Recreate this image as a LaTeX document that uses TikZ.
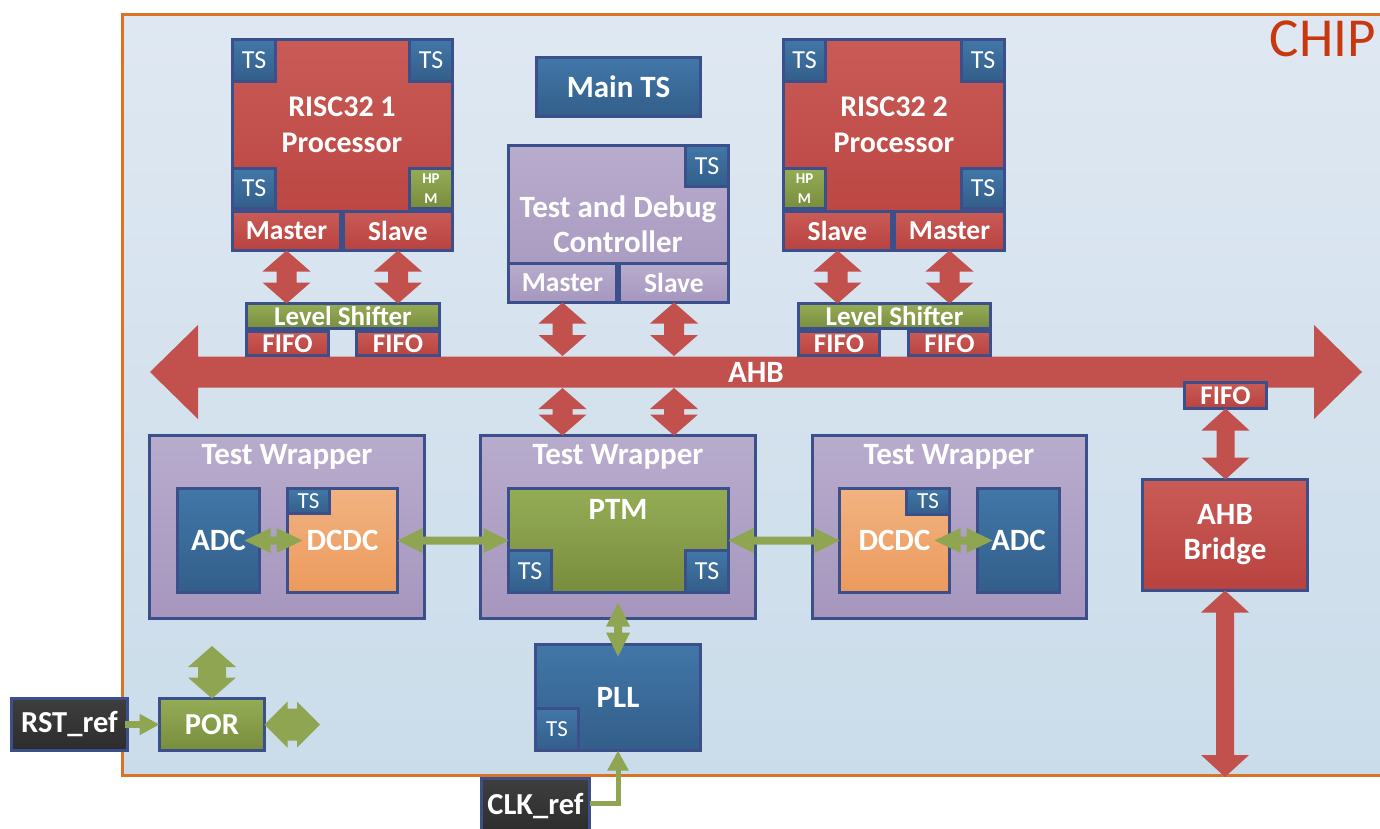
\documentclass[tikz,border=0pt]{standalone}
\usepackage{fontspec}
\setmainfont{Carlito}
\usetikzlibrary{arrows.meta,calc}
\definecolor{bordc}{HTML}{3B4F8A}
\definecolor{redT}{HTML}{C95B56}
\definecolor{redB}{HTML}{B9423F}
\definecolor{blueT}{HTML}{4177A8}
\definecolor{blueB}{HTML}{335E8A}
\definecolor{greenT}{HTML}{95AC56}
\definecolor{greenB}{HTML}{788D3D}
\definecolor{purT}{HTML}{B8ACCD}
\definecolor{purB}{HTML}{A696BE}
\definecolor{orT}{HTML}{F1B381}
\definecolor{orB}{HTML}{EC9A5C}
\definecolor{darkT}{HTML}{3E3E3E}
\definecolor{darkB}{HTML}{2C2C2C}
\definecolor{chipT}{HTML}{DFE8F2}
\definecolor{chipB}{HTML}{CADCEA}
\definecolor{chipline}{HTML}{DB7327}
\definecolor{chiptext}{HTML}{C8380F}
\definecolor{arrred}{HTML}{C2504D}
\definecolor{arrgreen}{HTML}{8FA552}

\tikzset{
  box/.style={draw=bordc, line width=3pt, inner sep=0pt, outer sep=0pt, text=white, align=center},
  redf/.style={box, top color=redT, bottom color=redB},
  bluef/.style={box, top color=blueT, bottom color=blueB},
  greenf/.style={box, top color=greenT, bottom color=greenB},
  purf/.style={box, top color=purT, bottom color=purB},
  orf/.style={box, top color=orT, bottom color=orB},
  darkf/.style={box, top color=darkT, bottom color=darkB},
  chipf/.style={draw=chipline, line width=3pt, top color=chipT, bottom color=chipB, inner sep=0pt},
  lbl/.style={text=white, align=center, inner sep=0pt},
  rarrow/.style={fill=arrred},
  garrow/.style={fill=arrgreen},
  gline/.style={draw=arrgreen, line width=5pt, -{Triangle[width=20pt,length=20pt]}},
  fT/.style={font=\bfseries\fontsize{31}{35}\selectfont},
  fR/.style={font=\bfseries\fontsize{30}{36}\selectfont},
  fW/.style={font=\bfseries\fontsize{31}{35}\selectfont},
  fM/.style={font=\bfseries\fontsize{27.5}{30}\selectfont},
  fX/.style={font=\bfseries\fontsize{30.5}{34}\selectfont},
  fF/.style={font=\bfseries\fontsize{27}{30}\selectfont},
  fTS/.style={font=\fontsize{26}{30}\selectfont},
  fts/.style={font=\fontsize{23}{28}\selectfont},
  fHP/.style={font=\bfseries\fontsize{15}{20}\selectfont},
}
\newcommand\blk[7]{\node[#6,minimum width={#4-#2-3},minimum height={#5-#3-3}] (#1) at ({(#2+#4)/2},{(#3+#5)/2}) {#7};}
% vertical double arrow: style, top point, bottom point, head half width, head length, shaft half width
\newcommand\vdarr[6]{\fill[#1] let \p1=(#2), \p2=(#3) in (\x1,\y1) -- (\x1+#4pt,\y1-#5pt) -- (\x1+#6pt,\y1-#5pt) -- (\x1+#6pt,\y2+#5pt) -- (\x1+#4pt,\y2+#5pt) -- (\x1,\y2) -- (\x1-#4pt,\y2+#5pt) -- (\x1-#6pt,\y2+#5pt) -- (\x1-#6pt,\y1-#5pt) -- (\x1-#4pt,\y1-#5pt) -- cycle;}
% horizontal double arrow: style, left point, right point, head half height, head length, shaft half height
\newcommand\hdarr[6]{\fill[#1] let \p1=(#2), \p2=(#3) in (\x1,\y1) -- (\x1+#5pt,\y1+#4pt) -- (\x1+#5pt,\y1+#6pt) -- (\x2-#5pt,\y1+#6pt) -- (\x2-#5pt,\y1+#4pt) -- (\x2,\y1) -- (\x2-#5pt,\y1-#4pt) -- (\x2-#5pt,\y1-#6pt) -- (\x1+#5pt,\y1-#6pt) -- (\x1+#5pt,\y1-#4pt) -- cycle;}

\begin{document}
\begin{tikzpicture}[x=1pt,y=-1pt]
\useasboundingbox (0,0) rectangle (1380,828);
\fill[white] (0,0) rectangle (1380,828);

% chip
\blk{chip}{121}{13}{1410}{777}{chipf}{}
\node[anchor=east, text=chiptext, font=\fontsize{55}{60}\selectfont, inner sep=0pt] (chipt) at (1376,39) {CHIP};

% AHB bus
\coordinate (busL) at (150,372);
\coordinate (busR) at (1362,372);
\coordinate (busT) at (756,356);
\coordinate (busB) at (756,388);
\hdarr{rarrow}{busL}{busR}{47}{48}{15.5}
\node[lbl, font=\bfseries\fontsize{31}{36}\selectfont] (ahb) at (756,372) {AHB};

% RISC32 1
\blk{r1}{231}{38}{454}{252}{redf}{}
\node[lbl, fR] (r1t) at (342,125) {RISC32 1\\Processor};
\blk{r1tl}{231}{38}{277}{83}{bluef,fTS}{TS}
\blk{r1tr}{408}{38}{454}{83}{bluef,fTS}{TS}
\blk{r1bl}{231}{167}{277}{210}{bluef,fTS}{TS}
\blk{r1hp}{408}{167}{454}{210}{greenf,fHP}{HP\\M}
\blk{r1m}{231}{210}{342}{252}{redf,fM}{Master}
\blk{r1s}{342}{210}{454}{252}{redf,fM}{Slave}
\blk{ls1}{245}{302}{441}{330}{greenf,fF}{Level Shifter}
\blk{f1a}{245}{330}{330}{357}{redf,fF}{FIFO}
\blk{f1b}{355}{330}{441}{357}{redf,fF}{FIFO}
\vdarr{rarrow}{r1m.south}{r1m.south |- ls1.north}{24}{21}{10}
\vdarr{rarrow}{r1s.south}{r1s.south |- ls1.north}{24}{21}{10}

% RISC32 2
\blk{r2}{782}{38}{1006}{252}{redf}{}
\node[lbl, fR] (r2t) at (894,125) {RISC32 2\\Processor};
\blk{r2tl}{782}{38}{827}{83}{bluef,fTS}{TS}
\blk{r2tr}{960}{38}{1006}{83}{bluef,fTS}{TS}
\blk{r2hp}{782}{167}{827}{210}{greenf,fHP}{HP\\M}
\blk{r2br}{960}{167}{1006}{210}{bluef,fTS}{TS}
\blk{r2s}{782}{210}{893}{252}{redf,fM}{Slave}
\blk{r2m}{893}{210}{1006}{252}{redf,fM}{Master}
\blk{ls2}{797}{302}{992}{330}{greenf,fF}{Level Shifter}
\blk{f2a}{797}{330}{881}{357}{redf,fF}{FIFO}
\blk{f2b}{907}{330}{992}{357}{redf,fF}{FIFO}
\vdarr{rarrow}{r2s.south}{r2s.south |- ls2.north}{24}{21}{10}
\vdarr{rarrow}{r2m.south}{r2m.south |- ls2.north}{24}{21}{10}

% Main TS and Test and Debug Controller
\blk{mts}{535}{56}{702}{118}{bluef,font=\bfseries\fontsize{31}{36}\selectfont}{Main TS}
\blk{tdc}{507}{144}{730}{304}{purf}{}
\node[lbl, fW] (tdct) at (618,224) {Test and Debug\\Controller};
\blk{tdcts}{684}{144}{730}{188}{bluef,fTS}{TS}
\blk{tdcm}{507}{262}{618}{304}{purf,fM}{Master}
\blk{tdcs}{618}{262}{730}{304}{purf,fM}{Slave}
\vdarr{rarrow}{tdcm.south}{tdcm.south |- busT}{24}{21}{10}
\vdarr{rarrow}{tdcs.south}{tdcs.south |- busT}{24}{21}{10}

% Test wrappers
\blk{tw1}{148}{434}{426}{620}{purf}{}
\node[lbl, fW] (tw1t) at (287,457) {Test Wrapper};
\blk{tw2}{479}{434}{757}{620}{purf}{}
\node[lbl, fW] (tw2t) at (618,457) {Test Wrapper};
\blk{tw3}{811}{434}{1088}{620}{purf}{}
\node[lbl, fW] (tw3t) at (949,457) {Test Wrapper};

\vdarr{rarrow}{tdcm.south |- busB}{tdcm.south |- tw2.north}{24}{21}{10}
\vdarr{rarrow}{tdcs.south |- busB}{tdcs.south |- tw2.north}{24}{21}{10}

\blk{adc1}{176}{487}{261}{594}{bluef,fT}{ADC}
\blk{dc1}{286}{487}{399}{594}{orf,fT}{DCDC}
\blk{dc1ts}{286}{487}{331}{515}{bluef,fts}{TS}
\blk{ptm}{507}{487}{730}{594}{greenf}{}
\node[lbl, fT] (ptmt) at (618,509) {PTM};
\blk{ptmts1}{507}{549}{553}{594}{bluef,fTS}{TS}
\blk{ptmts2}{684}{549}{730}{594}{bluef,fTS}{TS}
\blk{dc2}{838}{487}{951}{594}{orf,fT}{DCDC}
\blk{dc2ts}{905}{487}{951}{516}{bluef,fts}{TS}
\blk{adc2}{976}{487}{1061}{594}{bluef,fT}{ADC}

\hdarr{garrow}{[xshift=-15pt]adc1.east}{[xshift=15pt]dc1.west}{12.5}{26}{4}
\hdarr{garrow}{dc1.east}{ptm.west}{12.5}{25}{4}
\hdarr{garrow}{ptm.east}{dc2.west}{12.5}{25}{4}
\hdarr{garrow}{[xshift=-15pt]dc2.east}{[xshift=15pt]adc2.west}{12.5}{26}{4}

% PLL
\blk{pll}{534}{643}{702}{752}{bluef,fT}{PLL}
\blk{pllts}{534}{707}{580}{752}{bluef,fts}{TS}
\vdarr{garrow}{[yshift=16pt]tw2.south}{[yshift=-12pt]pll.north}{12}{24}{4}

% AHB bridge
\blk{f3}{1183}{381}{1268}{410}{redf,fF}{FIFO}
\blk{br}{1141}{478}{1309}{592}{redf,fT}{AHB\\Bridge}
\vdarr{rarrow}{f3.south}{br.north}{24}{22}{9}
\vdarr{rarrow}{br.south}{br.south |- chip.south}{24}{22}{9}

% POR / RST / CLK
\blk{rst}{10}{697}{129}{752}{darkf,fX}{RST\_ref}
\blk{por}{158}{697}{266}{752}{greenf,fX}{POR}
\coordinate (porU) at (212,646);
\coordinate (porR) at (320,725);
\vdarr{garrow}{porU}{por.north}{24}{21}{14}
\hdarr{garrow}{por.east}{porR}{23}{23}{16}
\draw[draw=arrgreen, line width=7pt, -{Triangle[width=20pt,length=20pt]}] ([xshift=-3pt]rst.east) -- (por.west);
\blk{clk}{480}{777}{591}{836}{darkf,fX}{CLK\_ref}
\draw[gline] ([yshift=3pt]clk.east) -| (pll.south);
\end{tikzpicture}
\end{document}
